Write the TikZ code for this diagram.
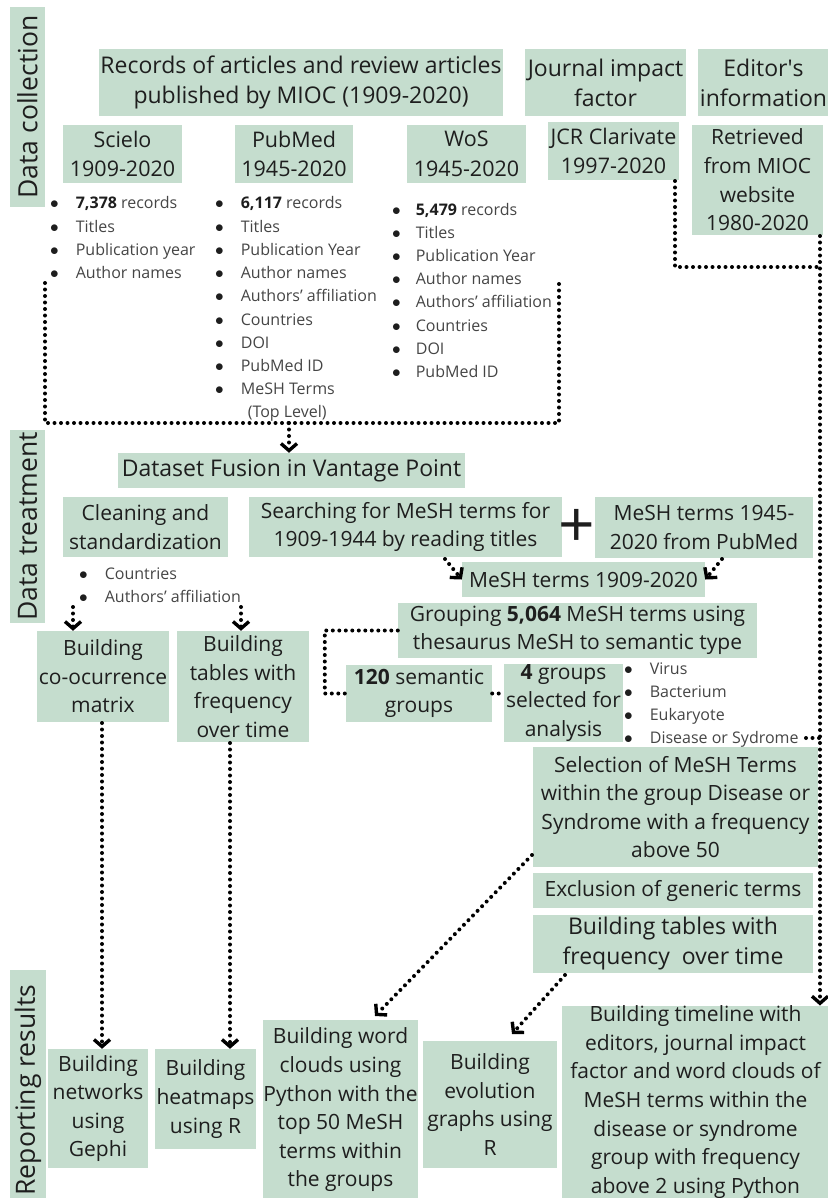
\documentclass[tikz,border=0pt]{standalone}
\usepackage{fontspec}
\setmainfont{Open Sans}
\usetikzlibrary{arrows.meta}

\definecolor{boxgreen}{HTML}{C5DDCE}
\definecolor{boxtext}{HTML}{1E1E1E}
\definecolor{listtext}{HTML}{454545}

\newcommand{\boxfont}{\fontsize{21}{28.6}\selectfont}
\newcommand{\bigfont}{\fontsize{23}{30}\selectfont}
\newcommand{\srcfont}{\fontsize{21.5}{29.5}\selectfont}
\newcommand{\listfont}{\fontsize{16}{23.2}\selectfont}
\newcommand{\sidefont}{\fontsize{26.5}{30}\selectfont}
\newcommand{\bul}{{\color{boxtext}$\bullet$}}
\newcommand{\num}[1]{\textbf{\color{boxtext}#1}}

\tikzset{
  box/.style={fill=boxgreen, text=boxtext, inner sep=0pt, align=center, font=\boxfont},
  sidebox/.style={fill=boxgreen, text=boxtext, inner sep=0pt, rotate=90, font=\sidefont},
  bullets/.style={anchor=base west, inner sep=0pt, text=listtext, font=\listfont},
  dots/.style={line width=4pt, line cap=round, dash pattern=on 0pt off 6.5pt},
  dotarrow/.style={dots, -{Straight Barb[length=7pt,width=16pt,line width=3.4pt]}},
}

\begin{document}
\begin{tikzpicture}[x=1pt, y=-1pt]
\useasboundingbox (0,0) rectangle (827,1198);

\node[sidebox, minimum width=200, minimum height=35] (datacol) at (27.5,107) {Data collection};
\node[sidebox, minimum width=193, minimum height=35] (datatreat) at (27.5,526.5) {Data treatment};
\node[sidebox, minimum width=240, minimum height=36] (reporting) at (28,1090) {Reporting results};

\node[box, font=\bigfont, minimum width=404, minimum height=67] (records) at (301,82.5) {Records of articles and review articles\\published by MIOC (1909-2020)};
\node[box, font=\bigfont, minimum width=161, minimum height=67] (journal) at (605.5,82.5) {Journal impact\\factor};
\node[box, font=\bigfont, minimum width=131, minimum height=67] (editor) at (763.5,82.5) {Editor\textquotesingle s\\information};
\node[box, font=\srcfont, minimum width=119, minimum height=58] (scielo) at (122.5,154) {Scielo\\1909-2020};
\node[box, font=\srcfont, minimum width=118, minimum height=58] (pubmed) at (294,154) {PubMed\\1945-2020};
\node[box, font=\srcfont, minimum width=119, minimum height=58] (wos) at (466.5,154) {WoS\\1945-2020};
\node[box, font=\srcfont, minimum width=131, minimum height=58] (jcr) at (613.5,151) {JCR Clarivate\\1997-2020};
\node[box, minimum width=131, minimum height=110] (retrieved) at (757.5,180) {Retrieved\\from MIOC\\website\\1980-2020};

\node[bullets] (scielolist) at (50,209) {\begin{tabular}[t]{@{}c@{\hspace{17pt}}l@{}}
\bul & \num{7,378} records\\
\bul & Titles\\
\bul & Publication year\\
\bul & Author names
\end{tabular}};
\node[bullets] (pubmedlist) at (215,209) {\begin{tabular}[t]{@{}c@{\hspace{17pt}}l@{}}
\bul & \num{6,117} records\\
\bul & Titles\\
\bul & Publication Year\\
\bul & Author names\\
\bul & Authors’ affiliation\\
\bul & Countries\\
\bul & DOI\\
\bul & PubMed ID\\
\bul & MeSH Terms\\
 & \hspace{7pt}(Top Level)
\end{tabular}};
\node[bullets] (woslist) at (392,215) {\begin{tabular}[t]{@{}c@{\hspace{15pt}}l@{}}
\bul & \num{5,479} records\\
\bul & Titles\\
\bul & Publication Year\\
\bul & Author names\\
\bul & Authors’ affiliation\\
\bul & Countries\\
\bul & DOI\\
\bul & PubMed ID
\end{tabular}};

\node[box, font=\bigfont, minimum width=347, minimum height=35] (fusion) at (291.5,470.5) {Dataset Fusion in Vantage Point};
\node[box, minimum width=165, minimum height=60] (cleaning) at (145.5,527) {Cleaning and\\standardization};
\node[box, minimum width=313, minimum height=60] (searching) at (405.5,527) {Searching for MeSH terms for\\1909-1944 by reading titles};
\node[font=\fontsize{64}{64}\selectfont, text=boxtext, inner sep=0pt] (plus) at (577,528) {+};
\node[box, minimum width=218, minimum height=61] (meshpub) at (704,527.5) {MeSH terms 1945-\\2020 from PubMed};
\node[box, minimum width=243, minimum height=35] (mesh) at (583.5,579.5) {MeSH terms 1909-2020};

\node[bullets] (cleanlist) at (79,579) {\begin{tabular}[t]{@{}c@{\hspace{17pt}}l@{}}
\bul & Countries\\
\bul & Authors’ affiliation
\end{tabular}};

\node[box, minimum width=132, minimum height=91] (cooc) at (103,676.5) {Building\\co-ocurrence\\matrix};
\node[box, minimum width=132, minimum height=111] (tables) at (243,686.5) {Building\\tables with\\frequency\\over time};
\node[box, minimum width=359, minimum height=55] (grouping) at (577.5,630.5) {Grouping \textbf{5,064} MeSH terms using\\thesaurus MeSH to semantic type};
\node[box, minimum width=146, minimum height=57] (semantic) at (419,693.5) {\textbf{120} semantic\\groups};
\node[box, minimum width=119, minimum height=76] (fourgroups) at (563.5,703) {\textbf{4} groups\\selected for\\analysis};

\node[bullets] (grouplist) at (624,674) {\begin{tabular}[t]{@{}c@{\hspace{17pt}}l@{}}
\bul & Virus\\
\bul & Bacterium\\
\bul & Eukaryote\\
\bul & Disease or Sydrome
\end{tabular}};

\node[box, minimum width=285, minimum height=120] (selection) at (675.5,807) {Selection of MeSH Terms\\within the group Disease or\\Syndrome with a frequency\\above 50};
\node[box, minimum width=280, minimum height=35] (exclusion) at (673,890.5) {Exclusion of generic terms};
\node[box, font=\bigfont, minimum width=280, minimum height=58] (tablesright) at (673,944) {Building tables with\\frequency\ \ over time};

\node[box, minimum width=100, minimum height=119] (networks) at (98,1108.5) {Building\\networks\\using\\Gephi};
\node[box, minimum width=101, minimum height=100] (heatmaps) at (205.5,1099) {Building\\heatmaps\\using R};
\node[box, minimum width=155, minimum height=180] (wordclouds) at (340.5,1110) {Building word\\clouds using\\Python with the\\top 50 MeSH\\terms within\\the groups};
\node[box, minimum width=134, minimum height=127] (evolution) at (490,1104.5) {Building\\evolution\\graphs using\\R};
\node[box, minimum width=267, minimum height=192] (timeline) at (695.5,1102) {Building timeline with\\editors, journal impact\\factor and word clouds of\\MeSH terms within the\\disease or syndrome\\group with frequency\\above 2 using Python};

\coordinate (fuseL) at (45,283);
\coordinate (fuseR) at (559,283);
\coordinate (fuseJ) at (289,423);
\draw[dots] (fuseL) |- (fuseJ) -| (fuseR);
\draw[dotarrow] (fuseJ) -- (fuseJ |- fusion.north);

\coordinate (jcrout) at (675,181);
\coordinate (edout) at (820,236);
\coordinate (edjoin) at (820,267);
\draw[dots] (jcrout) |- (edjoin);
\draw[dotarrow] (edout) -- (edout |- timeline.north);
\coordinate (disout) at (806,738);
\draw[dots] (disout) -- (disout -| edout);

\coordinate (searchout) at (445,559);
\coordinate (meshpubout) at (722,559);
\draw[dotarrow] (searchout) -- (mesh.west);
\draw[dotarrow] (meshpubout) -- (mesh.east);

\coordinate (cleanA) at (73,607);
\coordinate (cleanB) at (241,607);
\draw[dotarrow] (cleanA) -- (cleanA |- cooc.north);
\draw[dotarrow] (cleanB) -- (cleanB |- tables.north);

\draw[dots] (grouping.west) -- ++(-73,0) |- (semantic.west);
\draw[dots] (semantic.east) -- (fourgroups.west |- semantic.east);

\coordinate (coocout) at (102,723);
\coordinate (tabout) at (230,743);
\draw[dotarrow] (coocout) -- (coocout |- networks.north);
\draw[dotarrow] (tabout) -- (tabout |- heatmaps.north);

\coordinate (selout) at (532,855);
\coordinate (wordin) at (375,1016);
\draw[dotarrow] (selout) -- (wordin);
\coordinate (tabrout) at (565,975);
\coordinate (evoin) at (512,1034);
\draw[dotarrow] (tabrout) -- (evoin);
\end{tikzpicture}
\end{document}
